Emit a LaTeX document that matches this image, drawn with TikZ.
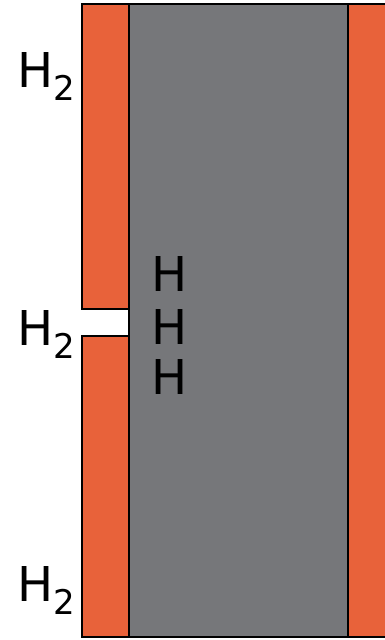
\documentclass[tikz,border=0pt]{standalone}
\usepackage{fontspec}
\setmainfont{DejaVu Sans}
\usepackage{tikz}
\usetikzlibrary{positioning}
\definecolor{wallorange}{RGB}{232,98,58}
\definecolor{coregray}{RGB}{118,119,122}

\begin{document}
\begin{tikzpicture}[
  x=1pt, y=-1pt,
  wall/.style={draw=black, line width=2.5pt, fill=wallorange},
  core/.style={draw=black, line width=2.5pt, fill=coregray},
  gas/.style={anchor=base west, inner sep=0pt, font=\fontsize{48}{48}\selectfont},
  atom/.style={anchor=base, inner sep=0pt, font=\fontsize{48}{48}\selectfont},
]
\useasboundingbox (0,0) rectangle (385,640);
\clip (0,0) rectangle (385,640);

% metal layers and membrane
\draw[core] (129,4) rectangle (348,637);
\draw[wall] (348,4) rectangle (395,637);
\draw[wall] (82,4) rectangle (129,309);
\draw[wall] (82,336) rectangle (129,637);

% molecules outside
\node[gas] (htop) at (17,87) {H\raisebox{-13pt}{\fontsize{34}{34}\selectfont 2}};
\node[gas] (hmid) at (17,345) {H\raisebox{-13pt}{\fontsize{34}{34}\selectfont 2}};
\node[gas] (hbot) at (17,601) {H\raisebox{-13pt}{\fontsize{34}{34}\selectfont 2}};

% atoms inside
\node[atom] (ha) at (170,291) {H};
\node[atom] (hb) at (170,344) {H};
\node[atom] (hc) at (170,394) {H};

\end{tikzpicture}
\end{document}
